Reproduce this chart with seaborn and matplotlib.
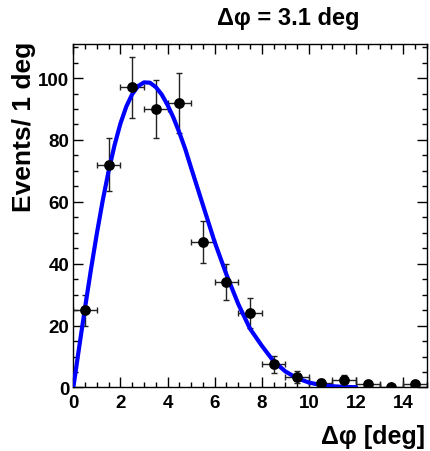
import numpy as np
import pandas as pd
import matplotlib
matplotlib.use("Agg")
import matplotlib.pyplot as plt
from matplotlib.ticker import MultipleLocator
import seaborn as sns

# histogram points (bin centres, counts, stat. errors)
bin_centers = [0.5, 1.5, 2.5, 3.5, 4.5, 5.5, 6.5, 7.5, 8.5, 9.5, 10.5, 11.5, 12.5, 13.5, 14.5]
counts = [25, 72, 97, 90, 92, 47, 34, 24, 7.5, 3.5, 1.5, 2.5, 1, 0, 1]
count_err = [5.0, 8.5, 9.8, 9.5, 9.6, 6.9, 5.8, 4.9, 2.7, 1.9, 1.2, 1.6, 1.0, 0.0, 1.0]
bin_halfwidth = [0.5] * 15

# fitted curve
fit_x = [0, 0.25, 0.5, 0.75, 1.0, 1.25, 1.5, 1.75, 2.0, 2.25, 2.5, 2.75, 3.0, 3.25,
         3.5, 3.75, 4.0, 4.25, 4.5, 4.75, 5.0, 5.5, 6.0, 6.5, 7.0, 7.5, 8.0, 8.5,
         9.0, 9.5, 10.0, 10.5, 11.0, 11.5, 12.0]
fit_y = [0, 13.1, 25.9, 38.2, 49.8, 60.5, 70.0, 78.3, 85.3, 90.8, 94.8, 97.4, 98.6, 98.5,
         97.1, 94.7, 91.3, 87.2, 82.4, 77.1, 71.0, 59.0, 47.0, 36.5, 27.0, 19.0, 13.5, 8.5,
         5.2, 3.0, 1.6, 0.8, 0.4, 0.2, 0.1]

sns.set_style("ticks")
plt.rcParams['font.family'] = ['Liberation Sans', 'DejaVu Sans']
plt.rcParams['font.weight'] = 'bold'
plt.rcParams['text.color'] = 'black'
plt.rcParams['xtick.color'] = 'black'
plt.rcParams['ytick.color'] = 'black'
plt.rcParams['xtick.labelcolor'] = 'black'
plt.rcParams['ytick.labelcolor'] = 'black'

hist_df = pd.DataFrame({'x': bin_centers, 'y': counts})
fit_df = pd.DataFrame({'x': fit_x, 'y': fit_y})

fig = plt.figure(figsize=(4.3, 4.52), dpi=100)
ax = fig.add_axes([0.1705, 0.1405, 0.8218, 0.7599])

ax.errorbar(bin_centers, counts, xerr=bin_halfwidth, yerr=count_err, fmt='none',
            ecolor='#222222', elinewidth=1.0, capsize=2.2, capthick=1.0, zorder=2)
sns.lineplot(data=fit_df, x='x', y='y', ax=ax, color='#0000ff', linewidth=3.0,
             sort=False, zorder=3)
sns.scatterplot(data=hist_df, x='x', y='y', ax=ax, color='black', s=60,
                edgecolor='black', linewidth=0, zorder=4)

ax.set_xlim(0, 15)
ax.set_ylim(0, 111)
ax.set_xlabel('')
ax.set_ylabel('')

ax.xaxis.set_major_locator(MultipleLocator(2))
ax.xaxis.set_minor_locator(MultipleLocator(0.5))
ax.yaxis.set_major_locator(MultipleLocator(20))
ax.yaxis.set_minor_locator(MultipleLocator(5))
ax.tick_params(which='both', direction='in', top=True, right=True, width=1.0, color='black')
ax.tick_params(which='major', length=7.5, labelsize=13.5)
ax.tick_params(which='minor', length=3.8)
ax.tick_params(axis='x', which='major', pad=4.5)
ax.tick_params(axis='y', which='major', pad=3)
for lbl in ax.get_xticklabels() + ax.get_yticklabels():
    lbl.set_fontweight('bold')
for s in ax.spines.values():
    s.set_linewidth(1.0)
    s.set_color('black')

fig.text(0.67, 0.960, 'Δφ = 3.1 deg', ha='center', va='center', fontsize=17, fontweight='bold')
fig.text(0.988, 0.033, 'Δφ [deg]', ha='right', va='center', fontsize=18, fontweight='bold')
fig.text(0.056, 0.907, 'Events/ 1 deg', ha='center', va='top', rotation=90,
         fontsize=19, fontweight='bold')

fig.savefig('out.png', dpi=100)
